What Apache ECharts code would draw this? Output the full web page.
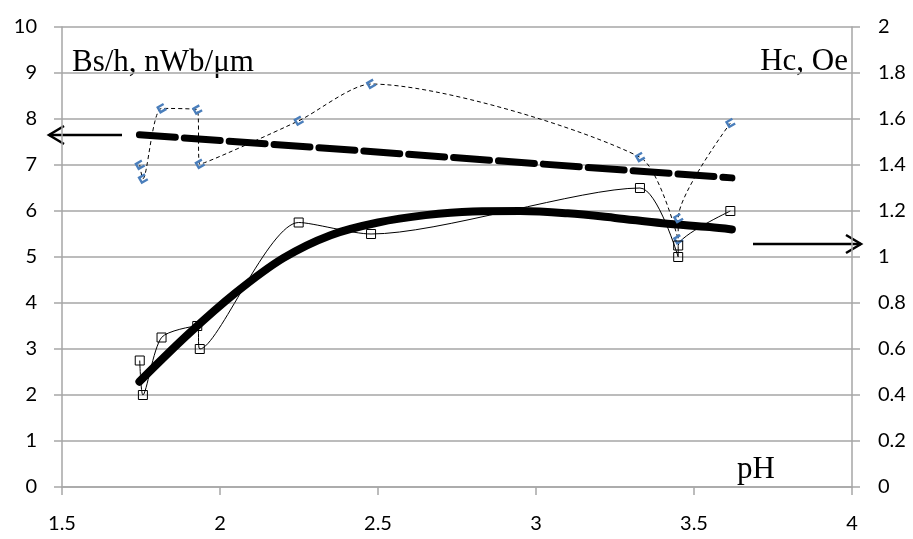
<!DOCTYPE html>
<html>
<head>
<meta charset="utf-8">
<script src="https://cdn.jsdelivr.net/npm/echarts@6/dist/echarts.min.js"></script>
<style>html,body{margin:0;padding:0;background:#fff}#c{width:913px;height:539px}</style>
</head>
<body>
<div id="c"></div>
<script>
// pH of each sample
var pH = [1.746, 1.756, 1.815, 1.928, 1.936, 2.249, 2.478, 3.329, 3.45, 3.45, 3.615];
// Bs/h, nWb/um (left axis)
var bsh = [7.0, 6.7, 8.23, 8.2, 7.02, 7.96, 8.76, 7.17, 5.38, 5.84, 7.91];
// Hc, Oe (right axis)
var hc = [0.55, 0.40, 0.65, 0.70, 0.60, 1.15, 1.10, 1.30, 1.00, 1.05, 1.20];
// Trend of Bs/h (linear)
var bshTrendX = [1.745, 3.62];
var bshTrendY = [7.66, 6.72];
// Trend of Hc (polynomial)
var hcTrendX = [1.745, 1.9, 2.05, 2.2, 2.35, 2.5, 2.65, 2.8, 2.95, 3.1, 3.25, 3.4, 3.55, 3.62];
var hcTrendY = [0.458, 0.665, 0.845, 0.995, 1.095, 1.15, 1.182, 1.198, 1.2, 1.19, 1.17, 1.147, 1.13, 1.12];
// axis ticks
var xTicks = [1.5, 4, 0.5];
var yLeftTicks = [0, 10, 1];
var yRightTicks = [0, 2, 0.2];

function zip(a, b) { return a.map(function (v, i) { return [v, b[i]]; }); }

var gray = '#a6a6a6';
var labelFont = {fontFamily: 'Lato', fontSize: 20, color: '#000'};
var chart = echarts.init(document.getElementById('c'), null, {renderer: 'canvas'});
var cMarker = 'path://M10,0 L0,0 L0,10 L10,10 L10,7 L3,7 L3,3 L10,3 Z';

chart.setOption({
  animation: false,
  backgroundColor: '#fff',
  grid: {left: 62, right: 61, top: 27, bottom: 52, containLabel: false},
  xAxis: {
    type: 'value', min: xTicks[0], max: xTicks[1], interval: xTicks[2],
    axisLine: {show: true, lineStyle: {color: gray, width: 1.5}},
    axisTick: {show: true, inside: false, length: 8, lineStyle: {color: gray, width: 1.5}},
    axisLabel: Object.assign({margin: 27}, labelFont),
    splitLine: {show: false}
  },
  yAxis: [{
    type: 'value', min: yLeftTicks[0], max: yLeftTicks[1], interval: yLeftTicks[2],
    axisLine: {show: true, lineStyle: {color: gray, width: 1.5}},
    axisTick: {show: true, length: 8, lineStyle: {color: gray, width: 1.5}},
    axisLabel: Object.assign({margin: 25}, labelFont),
    splitLine: {show: true, lineStyle: {color: gray, width: 1.5}}
  }, {
    type: 'value', position: 'right', min: yRightTicks[0], max: yRightTicks[1], interval: yRightTicks[2],
    axisLine: {show: true, lineStyle: {color: gray, width: 1.5}},
    axisTick: {show: true, length: 8, lineStyle: {color: gray, width: 1.5}},
    axisLabel: Object.assign({margin: 26, formatter: function (v) { return String(+v.toFixed(1)); }}, labelFont),
    splitLine: {show: false}
  }],
  series: [{
    name: 'Bs/h', type: 'line', yAxisIndex: 0, smooth: 0.25,
    data: zip(pH, bsh),
    symbol: cMarker, symbolSize: 8, symbolRotate: 30,
    itemStyle: {color: '#4a7ebb'},
    lineStyle: {color: '#000', width: 1, type: [4, 3]},
    z: 3
  }, {
    name: 'Hc', type: 'line', yAxisIndex: 1, smooth: 0.25,
    data: zip(pH, hc),
    symbol: 'rect', symbolSize: 9,
    itemStyle: {color: 'rgba(255,255,255,0)', borderColor: '#000', borderWidth: 1},
    lineStyle: {color: '#000', width: 1},
    z: 3
  }, {
    name: 'Bs/h trend', type: 'line', yAxisIndex: 0,
    data: zip(bshTrendX, bshTrendY),
    symbol: 'none',
    lineStyle: {color: '#000', width: 7, type: [36, 9], cap: 'round'},
    z: 2
  }, {
    name: 'Hc trend', type: 'line', yAxisIndex: 1, smooth: 0.35,
    data: zip(hcTrendX, hcTrendY),
    symbol: 'none',
    lineStyle: {color: '#000', width: 8, cap: 'round', join: 'round'},
    z: 2
  }],
  graphic: [
    {type: 'text', left: 72, top: 47, style: {text: 'Bs/h, nWb/\u03bcm', font: '31px "Liberation Serif"', fill: '#000'}},
    {type: 'text', right: 65, top: 46, style: {text: 'Hc, Oe', font: '31px "Liberation Serif"', fill: '#000'}},
    {type: 'text', left: 737, top: 454, style: {text: 'pH', font: '31px "Liberation Serif"', fill: '#000'}},
    {type: 'line', shape: {x1: 49, y1: 135, x2: 122, y2: 135}, style: {stroke: '#000', lineWidth: 2.5}},
    {type: 'polyline', shape: {points: [[64, 126], [49, 135], [64, 144]]}, style: {stroke: '#000', lineWidth: 2.5, fill: null}},
    {type: 'line', shape: {x1: 753, y1: 244, x2: 861, y2: 244}, style: {stroke: '#000', lineWidth: 2.5}},
    {type: 'polyline', shape: {points: [[846, 235], [861, 244], [846, 253]]}, style: {stroke: '#000', lineWidth: 2.5, fill: null}}
  ]
});
</script>
</body>
</html>
